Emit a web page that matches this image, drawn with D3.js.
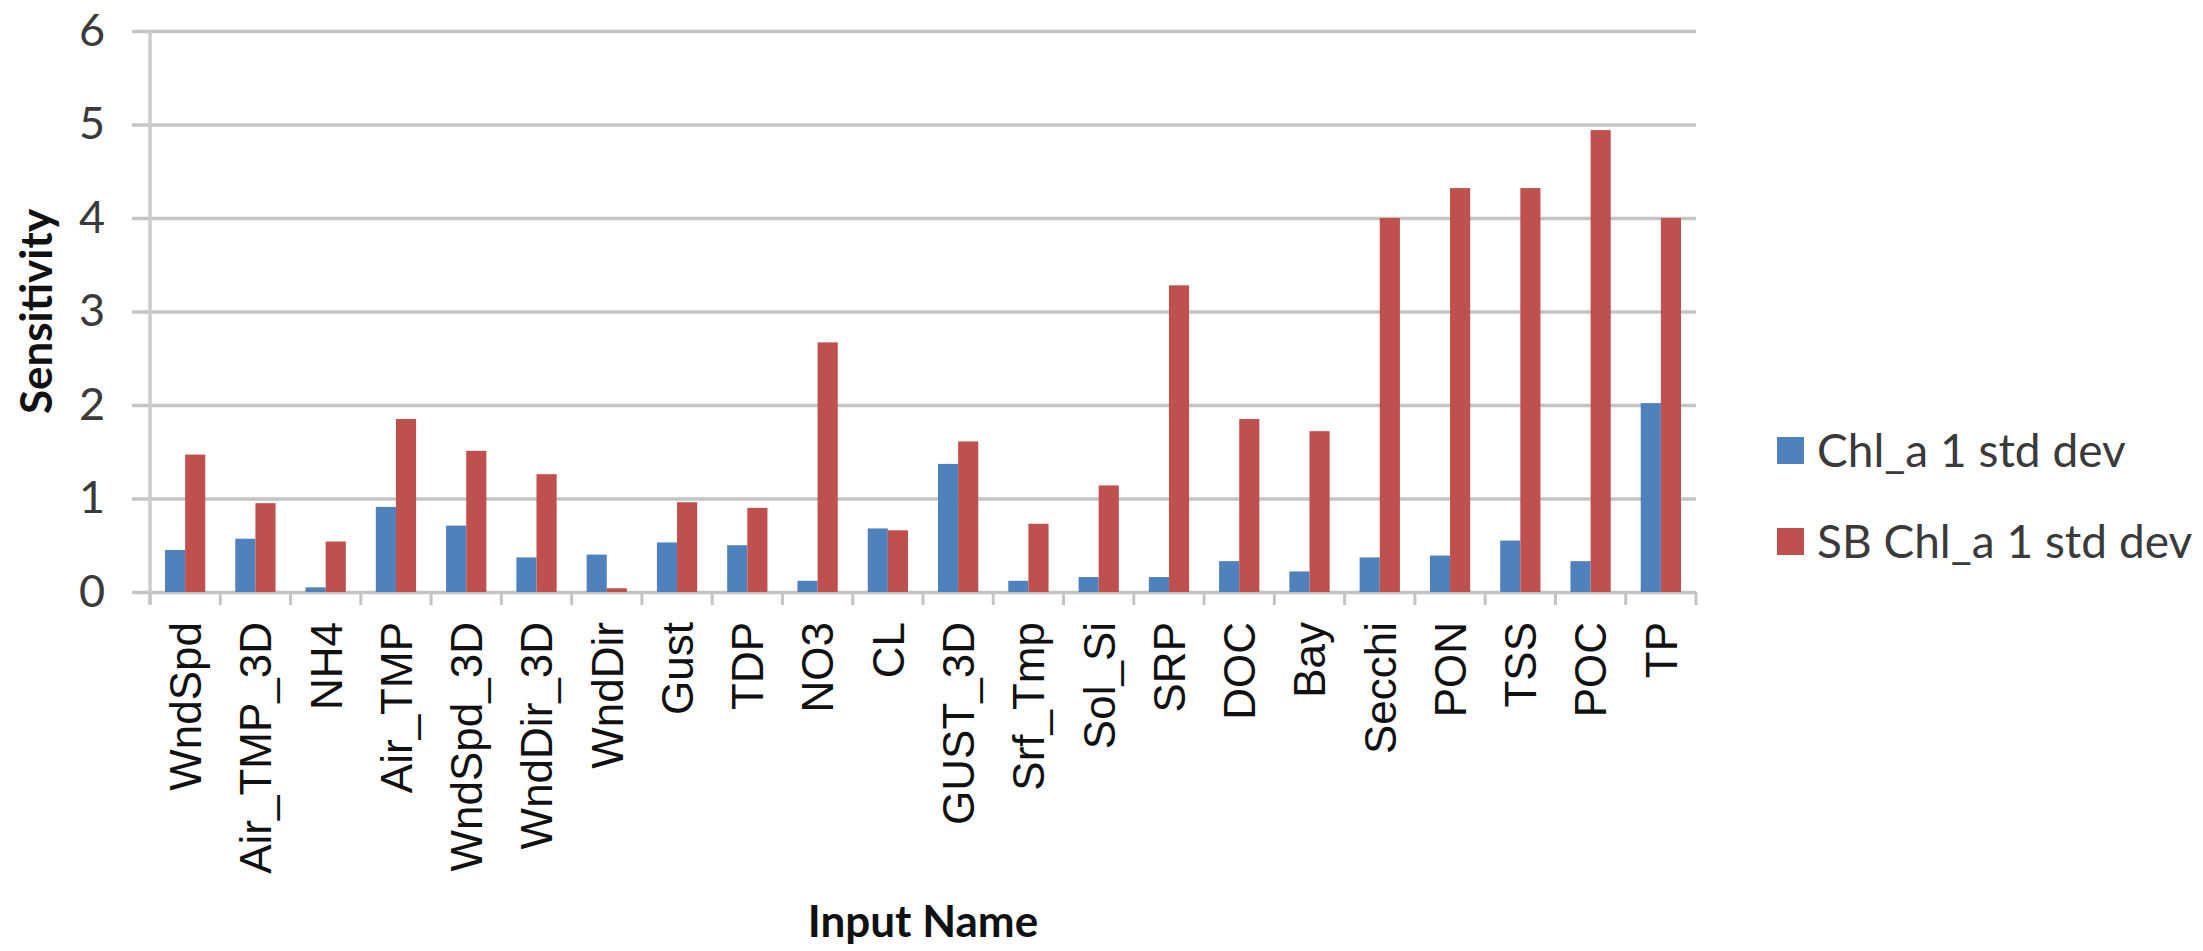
<!DOCTYPE html>
<html>
<head>
<meta charset="utf-8">
<script src="https://cdn.jsdelivr.net/npm/d3@7"></script>
<style>
  html, body { margin: 0; padding: 0; background: #ffffff; }
  svg { display: block; }
</style>
</head>
<body>
<svg id="chart" width="2203" height="951"></svg>
<script>
// Sensitivity of each model input, two series
const categories = ["WndSpd", "Air_TMP_3D", "NH4", "Air_TMP", "WndSpd_3D", "WndDir_3D", "WndDir",
  "Gust", "TDP", "NO3", "CL", "GUST_3D", "Srf_Tmp", "Sol_Si", "SRP", "DOC", "Bay",
  "Secchi", "PON", "TSS", "POC", "TP"];
const chlA = [0.45, 0.57, 0.05, 0.91, 0.71, 0.37, 0.40, 0.53, 0.50, 0.12, 0.68,
  1.37, 0.12, 0.16, 0.16, 0.33, 0.22, 0.37, 0.39, 0.55, 0.33, 2.02];
const sbChlA = [1.47, 0.95, 0.54, 1.85, 1.51, 1.26, 0.04, 0.96, 0.90, 2.67, 0.66,
  1.61, 0.73, 1.14, 3.28, 1.85, 1.72, 4.00, 4.32, 4.32, 4.94, 4.00];
const seriesNames = ["Chl_a 1 std dev", "SB Chl_a 1 std dev"];
const seriesColors = ["#4F81BD", "#C0504D"];
const yTicks = [0, 1, 2, 3, 4, 5, 6];
const yTitle = "Sensitivity";
const xTitle = "Input Name";

const series = [chlA, sbChlA];

const svg = d3.select("#chart");
const plot = { left: 150, right: 1696, top: 31, bottom: 592 };
const gridStart = 132;

const y = d3.scaleLinear().domain([0, 6]).range([plot.bottom, plot.top]);
const x0 = d3.scaleBand().domain(categories).range([plot.left, plot.right])
  .paddingInner(0.427).paddingOuter(0.2135);
const x1 = d3.scaleBand().domain(d3.range(series.length)).range([0, x0.bandwidth()]);

// horizontal gridlines and value labels
const yAxis = d3.axisLeft(y)
  .tickValues(yTicks)
  .tickFormat(d3.format("d"))
  .tickSizeInner(-(plot.right - gridStart))
  .tickSizeOuter(0)
  .tickPadding(27);

const gy = svg.append("g")
  .attr("transform", `translate(${gridStart},0)`)
  .call(yAxis);
gy.select(".domain").remove();
gy.selectAll(".tick line")
  .attr("stroke", "#c4c4c4")
  .attr("stroke-width", 3.5);
gy.selectAll(".tick text")
  .attr("fill", "#3a3a3a")
  .style("font-family", "Lato, 'Open Sans', sans-serif")
  .style("font-size", "45px");

// bars
const groups = svg.append("g").selectAll("g")
  .data(categories)
  .join("g")
  .attr("transform", d => `translate(${x0(d)},0)`);

groups.selectAll("rect")
  .data((d, i) => series.map((s, k) => ({ k, v: s[i] })))
  .join("rect")
  .attr("x", d => x1(d.k))
  .attr("width", x1.bandwidth())
  .attr("y", d => y(d.v))
  .attr("height", d => y(0) - y(d.v))
  .attr("fill", d => seriesColors[d.k]);

// vertical axis line
svg.append("line")
  .attr("x1", plot.left).attr("x2", plot.left)
  .attr("y1", y(6)).attr("y2", plot.bottom + 13)
  .attr("stroke", "#cccccc").attr("stroke-width", 3.5);

// category boundary tick marks
const step = x0.step();
const bounds = d3.range(categories.length + 1).map(k => plot.left + k * step);
svg.append("g").selectAll("line")
  .data(bounds)
  .join("line")
  .attr("x1", d => d).attr("x2", d => d)
  .attr("y1", plot.bottom).attr("y2", plot.bottom + 13)
  .attr("stroke", "#c4c4c4").attr("stroke-width", 3);

// category labels, rotated
const xAxis = d3.axisBottom(x0).tickSize(0).tickPadding(0);
const gx = svg.append("g")
  .attr("transform", `translate(0,${plot.bottom})`)
  .call(xAxis);
gx.select(".domain").remove();
gx.selectAll(".tick text")
  .attr("transform", "translate(0,30) rotate(-90)")
  .attr("x", 0).attr("y", 0)
  .attr("dy", "0.36em")
  .attr("text-anchor", "end")
  .attr("fill", "#111111")
  .style("font-family", "'Liberation Sans', Arial, sans-serif")
  .style("font-size", "44px");

// axis titles
svg.append("text")
  .attr("transform", `translate(52,${(plot.top + plot.bottom) / 2}) rotate(-90)`)
  .attr("text-anchor", "middle")
  .attr("fill", "#111111")
  .style("font-family", "Lato, 'Open Sans', sans-serif")
  .style("font-weight", "bold")
  .style("font-size", "44px")
  .text(yTitle);

svg.append("text")
  .attr("x", (plot.left + plot.right) / 2)
  .attr("y", 937)
  .attr("text-anchor", "middle")
  .attr("fill", "#111111")
  .style("font-family", "Lato, 'Open Sans', sans-serif")
  .style("font-weight", "bold")
  .style("font-size", "44px")
  .text(xTitle);

// legend
const legend = svg.append("g").attr("transform", "translate(1777,450)");
const items = legend.selectAll("g")
  .data(seriesNames)
  .join("g")
  .attr("transform", (d, i) => `translate(0,${i * 91})`);
items.append("rect")
  .attr("x", 0).attr("y", -13)
  .attr("width", 27).attr("height", 27)
  .attr("fill", (d, i) => seriesColors[i]);
items.append("text")
  .attr("x", 40).attr("y", 0)
  .attr("dy", "0.36em")
  .attr("fill", "#3a3a3a")
  .style("font-family", "Lato, 'Open Sans', sans-serif")
  .style("font-size", "46px")
  .text(d => d);
</script>
</body>
</html>
